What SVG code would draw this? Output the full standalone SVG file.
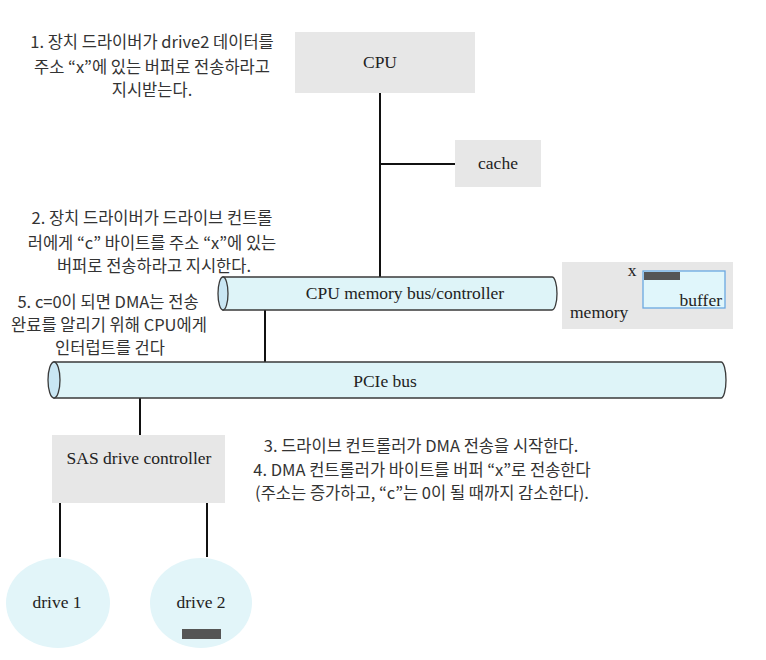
<svg xmlns="http://www.w3.org/2000/svg" width="766" height="660" viewBox="0 0 766 660">
<style>
.box{fill:#e7e7e7}
.bus{fill:#def4f8;stroke:#3a3a3a;stroke-width:1.3}
.busend{fill:#c9e6f3;stroke:#3a3a3a;stroke-width:1.3}
.drv{fill:#e2f5f9}
.bar{fill:#555}
.ln{stroke:#111;stroke-width:2;fill:none}
.lbl{font-family:"Liberation Serif","Times New Roman",serif;font-size:17.5px;fill:#222;text-anchor:middle}
.ko{font-family:"Noto Sans CJK KR","Noto Sans",sans-serif;font-size:16.5px;fill:#333;text-anchor:middle}
</style>
<rect width="766" height="660" fill="#fff"/>
<g id="connectors">
<path class="ln" d="M380 93 V277"/>
<path class="ln" d="M380 164 H455"/>
<path class="ln" d="M227 293 H278"/>
<path class="ln" d="M535 293 H557"/>
<path class="ln" d="M265 293 V381"/>
<path class="ln" d="M78 381 H331"/>
<path class="ln" d="M453 381 H698"/>
<path class="ln" d="M140 381 V435"/>
<path class="ln" d="M60 503 V557"/>
<path class="ln" d="M207 503 V557"/>
</g>
<g id="cpu">
<rect class="box" x="295" y="32" width="180" height="61"/>
<text class="lbl" x="380" y="68">CPU</text>
</g>
<g id="cache">
<rect class="box" x="455" y="140" width="86" height="47"/>
<text class="lbl" x="498" y="169">cache</text>
</g>
<g id="memory-bus">
<path class="bus" d="M223 277 H552 A5 16.5 0 0 1 552 310 H223 Z"/>
<ellipse class="busend" cx="223" cy="293.5" rx="5" ry="16.5"/>
<text class="lbl" x="405" y="299">CPU memory bus/controller</text>
</g>
<g id="memory">
<rect class="box" x="562" y="262" width="171" height="67"/>
<rect x="643" y="271" width="82" height="37" fill="#e0f6fb" stroke="#6aa8e0" stroke-width="1.3"/>
<rect class="bar" x="644" y="272" width="36" height="8"/>
<text class="lbl" x="632" y="276" style="text-anchor:middle">x</text>
<text class="lbl" x="722" y="306" style="text-anchor:end">buffer</text>
<text class="lbl" x="570" y="318" style="text-anchor:start">memory</text>
</g>
<g id="pcie-bus">
<path class="bus" d="M54 362 H721 A5 18 0 0 1 721 398 H54 Z"/>
<ellipse class="busend" cx="54" cy="380" rx="6" ry="18"/>
<text class="lbl" x="385" y="387">PCIe bus</text>
</g>
<g id="sas">
<rect class="box" x="52" y="435" width="173" height="68"/>
<text class="lbl" x="139" y="464">SAS drive controller</text>
</g>
<g id="drive1">
<ellipse class="drv" cx="58" cy="603" rx="52" ry="45"/>
<text class="lbl" x="57" y="608">drive 1</text>
</g>
<g id="drive2">
<ellipse class="drv" cx="201" cy="603" rx="51" ry="45"/>
<text class="lbl" x="201" y="608">drive 2</text>
<rect class="bar" x="182" y="629" width="39" height="10"/>
</g>
<g id="notes">
<text class="ko" x="152" y="48">1. 장치 드라이버가 drive2 데이터를</text>
<text class="ko" x="152" y="73">주소 “x”에 있는 버퍼로 전송하라고</text>
<text class="ko" x="152" y="96">지시받는다.</text>
<text class="ko" x="152" y="224">2. 장치 드라이버가 드라이브 컨트롤</text>
<text class="ko" x="152" y="249">러에게 “c” 바이트를 주소 “x”에 있는</text>
<text class="ko" x="154" y="272">버퍼로 전송하라고 지시한다.</text>
<text class="ko" x="108" y="308">5. c=0이 되면 DMA는 전송</text>
<text class="ko" x="109" y="331">완료를 알리기 위해 CPU에게</text>
<text class="ko" x="110" y="354">인터럽트를 건다</text>
<text class="ko" x="421" y="452">3. 드라이브 컨트롤러가 DMA 전송을 시작한다.</text>
<text class="ko" x="422" y="476">4. DMA 컨트롤러가 바이트를 버퍼 “x”로 전송한다</text>
<text class="ko" x="422" y="499">(주소는 증가하고, “c”는 0이 될 때까지 감소한다).</text>
</g>
</svg>
